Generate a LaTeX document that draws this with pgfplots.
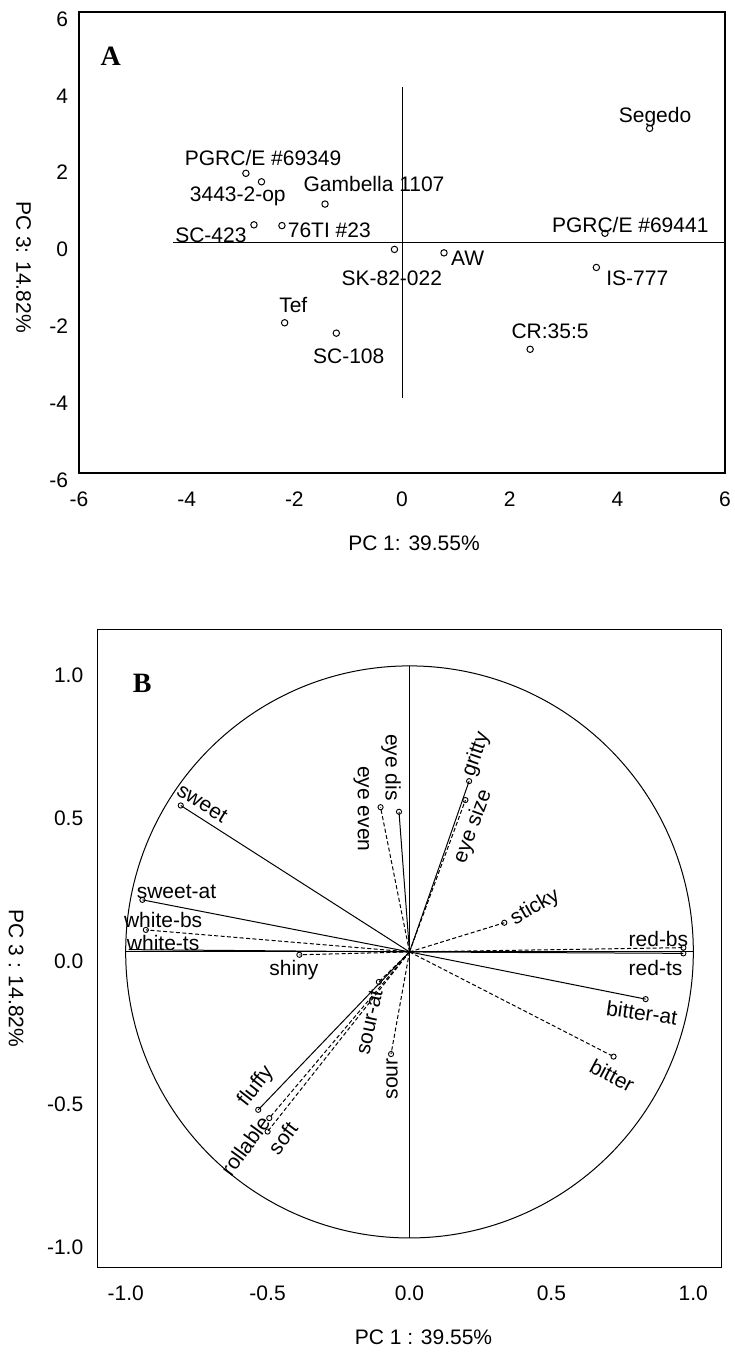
\documentclass[border=0pt]{standalone}
\usepackage{pgfplots}
\pgfplotsset{compat=1.18}
\usepackage{fontspec}
\setmainfont{Liberation Sans}
\newfontfamily\serifb{Liberation Serif}
\newcommand\fs{\fontsize{10.5}{12.6}\selectfont}
\begin{document}
\begin{tikzpicture}
\useasboundingbox (0pt,0pt) rectangle (367pt,676pt);
\pgfplotsset{
  vs/.style={black, line width=0.5pt, mark=o, mark size=1.3pt, mark indices={2}, mark options={solid, line width=0.45pt}},
  vd/.style={vs, dash pattern=on 2pt off 1.2pt},
}
\tikzset{lab/.style={font=\fs, inner sep=0pt}}
% ---------------- Panel A ----------------
\begin{axis}[
  at={(39.5pt,439.5pt)}, anchor=south west,
  scale only axis, width=323pt, height=230.5pt,
  xmin=-6, xmax=6, ymin=-6, ymax=6,
  xtick={-6,-4,-2,0,2,4,6}, xticklabels={-6,-4,-2,0,2,4,6},
  ytick={-6,-4,-2,0,2,4,6}, yticklabels={-6,-4,-2,0,2,4,6},
  major tick length=0pt,
  axis line style={line width=0.6pt},
  tick label style={font=\fs},
  xticklabel style={yshift=-6pt},
  yticklabel style={xshift=-2pt, yshift=-3.5pt},
  xlabel={PC 1: 39.55\%},
  ylabel={PC 3: 14.82\%},
  every axis x label/.style={at={(axis description cs:0.5186,-0.1518)}, anchor=center, font=\fs},
  every axis y label/.style={at={(axis description cs:-0.0859,0.4469)}, anchor=center, rotate=-90, font=\fs},
  clip=false,
]
\addplot[black, line width=0.5pt] coordinates {(-4.25,0) (6,0)};
\addplot[black, line width=0.5pt] coordinates {(0,-4.05) (0,4.05)};
\addplot[only marks, mark=o, mark size=1.6pt, mark options={line width=0.5pt}] coordinates {
  (-2.90,1.80) (-2.61,1.58) (-1.43,1.00) (-2.75,0.46) (-2.23,0.44)
  (-0.14,-0.18) (0.78,-0.27) (4.60,2.97) (3.77,0.24) (3.61,-0.65)
  (-2.18,-2.09) (-1.22,-2.36) (2.38,-2.78)};
\node[lab] at (axis cs:-2.58,2.19) {PGRC/E \#69349};
\node[lab] at (axis cs:-3.05,1.21) {3443-2-op};
\node[lab] at (axis cs:-0.52,1.52) {Gambella 1107};
\node[lab] at (axis cs:-3.55,0.20) {SC-423};
\node[lab] at (axis cs:-1.35,0.33) {76TI \#23};
\node[lab] at (axis cs:-0.19,-0.92) {SK-82-022};
\node[lab] at (axis cs:1.22,-0.40) {AW};
\node[lab] at (axis cs:4.70,3.26) {Segedo};
\node[lab] at (axis cs:4.24,0.46) {PGRC/E \#69441};
\node[lab] at (axis cs:4.37,-0.92) {IS-777};
\node[lab] at (axis cs:-2.02,-1.63) {Tef};
\node[lab] at (axis cs:-0.99,-2.97) {SC-108};
\node[lab] at (axis cs:2.75,-2.30) {CR:35:5};
\node[font=\serifb\bfseries\fontsize{14}{16}\selectfont] at (axis cs:-5.41,4.84) {A};
\end{axis}
% ---------------- Panel B ----------------
\begin{axis}[
  at={(48.65pt,42.15pt)}, anchor=south west,
  scale only axis, width=312.2pt, height=319.2pt,
  xmin=-1.1, xmax=1.1, ymin=-1.104, ymax=1.128,
  xtick={-1,-0.5,0,0.5,1}, xticklabels={-1.0,-0.5,0.0,0.5,1.0},
  ytick={-1,-0.5,0,0.5,1}, yticklabels={-1.0,-0.5,0.0,0.5,1.0},
  major tick length=0pt,
  axis line style={line width=0.6pt},
  tick label style={font=\fs},
  xticklabel style={yshift=-5.4pt},
  yticklabel style={xshift=-3.5pt, yshift=-4.5pt},
  xlabel={PC 1 : 39.55\%},
  ylabel={PC 3 : 14.82\%},
  every axis x label/.style={at={(axis description cs:0.5224,-0.1096)}, anchor=center, font=\fs},
  every axis y label/.style={at={(axis description cs:-0.1302,0.453)}, anchor=center, rotate=-90, font=\fs},
  clip=false,
]
\draw[black, line width=0.5pt] (axis cs:0,0) ellipse [x radius=1, y radius=1];
\addplot[black, line width=0.5pt] coordinates {(-1,0) (1,0)};
\addplot[black, line width=0.5pt] coordinates {(0,-1) (0,1)};
% vectors
\addplot[vs] coordinates {(0,0) (-0.806,0.512)};  % sweet
\addplot[vs] coordinates {(0,0) (-0.941,0.182)};  % sweet-at
\addplot[vd] coordinates {(0,0) (-0.929,0.077)};  % white-bs
\addplot[black, line width=0.5pt] coordinates {(0,0) (-0.99,0.008)}; % white-ts
\addplot[vd] coordinates {(0,0) (-0.388,-0.010)}; % shiny
\addplot[vs] coordinates {(0,0) (-0.037,0.490)};  % eye dis
\addplot[vd] coordinates {(0,0) (-0.102,0.506)};  % eye even
\addplot[vs] coordinates {(0,0) (0.210,0.597)};   % gritty
\addplot[vd] coordinates {(0,0) (0.197,0.531)};   % eye size
\addplot[vd] coordinates {(0,0) (0.334,0.102)};   % sticky
\addplot[vd] coordinates {(0,0) (0.965,0.015)};   % red-bs
\addplot[vs] coordinates {(0,0) (0.965,-0.005)};  % red-ts
\addplot[vs] coordinates {(0,0) (0.832,-0.165)};  % bitter-at
\addplot[vd] coordinates {(0,0) (0.719,-0.366)};  % bitter
\addplot[vd] coordinates {(0,0) (-0.108,-0.105)}; % sour-at
\addplot[vd] coordinates {(0,0) (-0.065,-0.357)}; % sour
\addplot[vs] coordinates {(0,0) (-0.533,-0.552)}; % fluffy
\addplot[vd] coordinates {(0,0) (-0.494,-0.581)}; % rollable
\addplot[vd] coordinates {(0,0) (-0.500,-0.628)}; % soft
% labels
\node[lab, rotate=-32] at (axis cs:-0.73,0.52) {sweet};
\node[lab, rotate=-90] at (axis cs:-0.065,0.645) {eye dis};
\node[lab, rotate=-90] at (axis cs:-0.170,0.50) {eye even};
\node[lab, rotate=71] at (axis cs:0.235,0.69) {gritty};
\node[lab, rotate=70] at (axis cs:0.224,0.438) {eye size};
\node[lab] at (axis cs:-0.821,0.211) {sweet-at};
\node[lab] at (axis cs:-0.868,0.112) {white-bs};
\node[lab] at (axis cs:-0.868,0.030) {white-ts};
\node[lab] at (axis cs:-0.407,-0.063) {shiny};
\node[lab, rotate=30] at (axis cs:0.443,0.156) {sticky};
\node[lab] at (axis cs:0.877,0.044) {red-bs};
\node[lab] at (axis cs:0.867,-0.057) {red-ts};
\node[lab, rotate=-8] at (axis cs:0.819,-0.213) {bitter-at};
\node[lab, rotate=-28] at (axis cs:0.714,-0.432) {bitter};
\node[lab, rotate=78] at (axis cs:-0.141,-0.246) {sour-at};
\node[lab, rotate=90] at (axis cs:-0.061,-0.444) {sour};
\node[lab, rotate=52] at (axis cs:-0.541,-0.471) {fluffy};
\node[lab, rotate=54] at (axis cs:-0.579,-0.678) {rollable};
\node[lab, rotate=53] at (axis cs:-0.447,-0.651) {soft};
\node[font=\serifb\bfseries\fontsize{14}{16}\selectfont] at (axis cs:-0.942,0.94) {B};
\end{axis}
\end{tikzpicture}
\end{document}
